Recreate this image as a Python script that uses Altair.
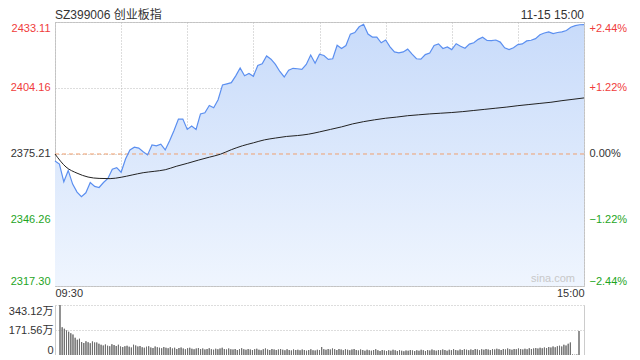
import altair as alt
import pandas as pd

TITLE = "SZ399006 创业板指"
STAMP = "11-15 15:00"
WATERMARK = "sina.com"
PREV_CLOSE = 2375.21
PRICE_TICKS = [2317.30, 2346.26, 2375.21, 2404.16, 2433.11]
VOL_TICKS = [0, 171.56, 343.12]
TIME_TICKS = [0, 30, 60, 90, 120, 150, 180, 210, 240]
TIME_LABELS = {0: "09:30", 240: "15:00"}

# minute index (0 = 09:30, 120 = 11:30/13:00, 240 = 15:00), every 2 minutes
PRICE_T = list(range(0, 241, 2))
PRICE = [
    2372.1, 2370.8, 2363.0, 2368.0, 2362.0, 2358.5, 2356.5, 2358.2, 2362.7, 2361.0,
    2360.5, 2362.7, 2364.5, 2368.5, 2369.2, 2367.2, 2373.0, 2377.0, 2378.2, 2377.8,
    2376.2, 2374.8, 2379.2, 2378.8, 2379.5, 2377.0, 2381.0, 2385.5, 2390.5, 2390.5,
    2386.0, 2387.5, 2386.0, 2392.8, 2393.3, 2396.5, 2395.5, 2399.0, 2405.5, 2406.0,
    2406.5, 2409.5, 2412.9, 2409.5, 2410.5, 2409.3, 2414.0, 2414.8, 2418.2, 2416.8,
    2414.5, 2411.4, 2409.0, 2412.0, 2412.8, 2412.6, 2412.3, 2414.5, 2418.6, 2415.0,
    2419.0, 2418.4, 2416.7, 2417.0, 2422.9, 2421.5, 2422.8, 2427.8, 2428.5, 2431.0,
    2432.1, 2427.8, 2426.5, 2426.5, 2424.0, 2425.2, 2422.2, 2420.0, 2419.6, 2420.0,
    2421.2, 2419.0, 2417.0, 2416.8, 2418.8, 2419.5, 2422.8, 2423.5, 2421.5, 2422.2,
    2421.0, 2423.6, 2422.5, 2421.6, 2423.4, 2424.0, 2425.5, 2426.4, 2425.0, 2424.9,
    2425.2, 2424.3, 2421.8, 2421.0, 2421.8, 2423.2, 2423.5, 2424.8, 2425.1, 2425.8,
    2427.5, 2428.3, 2428.8, 2428.0, 2428.5, 2428.8, 2429.4, 2430.8, 2431.5, 2431.9,
    2432.0,
]

# average price line, every 5 minutes
AVG_T = list(range(0, 241, 5))
AVG = [
    2375.2, 2369.5, 2366.8, 2365.1, 2364.5, 2364.4, 2365.0, 2366.0, 2367.0, 2367.6,
    2368.3, 2369.8, 2371.1, 2372.5, 2373.8, 2375.1, 2377.1, 2378.8, 2380.1, 2381.4,
    2382.2, 2382.9, 2383.3, 2383.9, 2384.9, 2386.0, 2387.1, 2388.4, 2389.4, 2390.2,
    2390.9, 2391.4, 2392.0, 2392.4, 2392.8, 2393.1, 2393.4, 2393.8, 2394.3, 2394.8,
    2395.3, 2395.8, 2396.4, 2396.9, 2397.4, 2397.9, 2398.6, 2399.2, 2399.8,
]

# volume per minute (万)
VOL_T = list(range(241))
VOL = [
    343.12, 190, 180, 168, 160, 150, 140, 118, 105, 112,
    90, 82, 95, 88, 80, 92, 85, 86, 78, 70,
    66, 72, 64, 60, 74, 68, 62, 70, 58, 55,
    60, 64, 56, 52, 70, 66, 58, 62, 54, 50,
    56, 60, 52, 48, 58, 54, 50, 46, 55, 49,
    47, 53, 45, 50, 42, 48, 52, 44, 40, 46,
    50, 43, 39, 45, 48, 41, 44, 38, 42, 47,
    40, 36, 43, 39, 45, 50, 41, 37, 44, 40,
    38, 42, 35, 40, 46, 39, 36, 41, 37, 34,
    39, 43, 36, 33, 40, 44, 37, 35, 41, 38,
    34, 38, 42, 36, 33, 39, 35, 31, 37, 34,
    36, 32, 38, 34, 30, 35, 40, 33, 31, 36,
    34, 55, 40, 36, 42, 38, 44, 39, 35, 41,
    37, 33, 39, 36, 32, 38, 42, 35, 31, 37,
    34, 30, 36, 33, 29, 35, 39, 32, 28, 34,
    31, 27, 33, 30, 36, 32, 28, 34, 30, 26,
    31, 29, 35, 31, 27, 33, 30, 36, 32, 28,
    34, 31, 37, 33, 29, 35, 32, 38, 34, 30,
    36, 33, 39, 35, 31, 37, 34, 40, 36, 32,
    38, 35, 41, 37, 33, 39, 36, 42, 38, 34,
    40, 37, 43, 39, 35, 41, 38, 44, 40, 36,
    42, 39, 45, 41, 37, 43, 40, 46, 42, 45,
    48, 44, 50, 47, 52, 48, 55, 51, 58, 54,
    60, 64, 58, 70, 66, 78, 85, 3, 2, 3,
    165,
]

FONT = "Liberation Sans, Arial, Noto Sans CJK SC, sans-serif"
RED = "#f03c3c"
GREEN = "#1ea51e"
TEXT = "#333333"
BLUE = "#5b8ff0"
GRID = "#bbbbbb"
BORDER = "#cccccc"
W = 529
H_TOP = 264
H_VOL = 50

price_df = pd.DataFrame({"t": PRICE_T, "price": PRICE})
avg_df = pd.DataFrame({"t": AVG_T, "avg": AVG})
vol_df = pd.DataFrame({"t": VOL_T, "vol": VOL})
close_df = pd.DataFrame({"price": [PREV_CLOSE]})
one_df = pd.DataFrame({"a": [0]})

xscale = alt.Scale(domain=[TIME_TICKS[0], TIME_TICKS[-1]], nice=False, zero=False)
yscale = alt.Scale(domain=[PRICE_TICKS[0], PRICE_TICKS[-1]], nice=False, zero=False)
vscale = alt.Scale(domain=[VOL_TICKS[0], VOL_TICKS[-1]], nice=False)

time_expr = " : ".join(
    [f"datum.value == {k} ? '{v}'" for k, v in TIME_LABELS.items()]
) + " : ''"

color_cond = {
    "condition": [
        {"test": f"datum.value > {PREV_CLOSE + 0.01}", "value": RED},
        {"test": f"datum.value < {PREV_CLOSE - 0.01}", "value": GREEN},
    ],
    "value": TEXT,
}

x_axis = alt.Axis(
    values=TIME_TICKS, labelExpr=time_expr, labelFlush=True,
    grid=True, gridDash=[1, 2], gridColor=GRID, domain=False, ticks=False,
    tickSize=0, labelPadding=1, labelFontSize=11, labelColor=TEXT,
    labelFont=FONT, title=None,
)
left_axis = alt.Axis(
    values=PRICE_TICKS, format=".2f", labelFlush=True, grid=True,
    gridDash=[1, 2], gridColor=GRID, domain=False, ticks=False, tickSize=0,
    labelPadding=5, labelFontSize=11, labelFont=FONT, title=None,
    labelColor=color_cond,
)
pct = f"(datum.value - {PREV_CLOSE}) / {PREV_CLOSE} * 100"
right_axis = alt.Axis(
    orient="right", values=PRICE_TICKS,
    labelExpr=(f"{pct} > 0.001 ? '+' + format({pct}, '.2f') + '%' : "
               f"format(abs({pct}) < 0.001 ? 0 : {pct}, '.2f') + '%'"),
    labelFlush=True, grid=False, domain=False, ticks=False, tickSize=0,
    labelPadding=5, labelFontSize=11, labelFont=FONT, title=None,
    labelColor=color_cond,
)

X = alt.X("t:Q", scale=xscale, axis=x_axis)

area = alt.Chart(price_df).mark_area(
    color=alt.Gradient(
        gradient="linear",
        stops=[alt.GradientStop(color="#eff5fe", offset=0),
               alt.GradientStop(color="#c8dbfa", offset=1)],
        x1=1, x2=1, y1=1, y2=0,
    )
).encode(
    x=X,
    y=alt.Y("price:Q", scale=yscale, axis=left_axis),
    y2=alt.datum(PRICE_TICKS[0]),
)

close_rule = alt.Chart(close_df).mark_rule(
    color="#f0a070", strokeDash=[4, 3], strokeWidth=1
).encode(y=alt.Y("price:Q", scale=yscale, axis=None))

price_line = alt.Chart(price_df).mark_line(color=BLUE, strokeWidth=1.2).encode(
    x=X, y=alt.Y("price:Q", scale=yscale, axis=None)
)

avg_line = alt.Chart(avg_df).mark_line(
    color="#222222", strokeWidth=1, interpolate="monotone"
).encode(x=X, y=alt.Y("avg:Q", scale=yscale, axis=right_axis))

title_txt = alt.Chart(one_df).mark_text(
    text=TITLE, align="left", baseline="alphabetic", fontSize=12,
    font=FONT, color=TEXT,
).encode(x=alt.value(0), y=alt.value(-3))

stamp_txt = alt.Chart(one_df).mark_text(
    text=STAMP, align="right", baseline="alphabetic", fontSize=12,
    font=FONT, color=TEXT,
).encode(x=alt.value(W), y=alt.value(-3))

mark_txt = alt.Chart(one_df).mark_text(
    text=WATERMARK, align="right", baseline="middle", fontSize=11,
    font=FONT, color="#c8c8c8",
).encode(x=alt.value(W - 9), y=alt.value(H_TOP - 7))

top = alt.layer(
    area, close_rule, price_line, avg_line, title_txt, stamp_txt, mark_txt
).resolve_axis(y="independent").properties(
    width=W, height=H_TOP,
    view=alt.ViewBackground(stroke=BORDER, strokeWidth=1),
)

vol_axis = alt.Axis(
    values=VOL_TICKS,
    labelExpr="datum.value == 0 ? '0' : format(datum.value, '.2f') + '万'",
    labelFlush=True, grid=True, gridDash=[1, 2], gridColor=GRID,
    domain=True, domainColor=BORDER, ticks=False, tickSize=0, labelPadding=2,
    labelFontSize=11, labelFont=FONT, labelColor=TEXT, title=None,
)
edge_axis = alt.Axis(
    orient="right", values=VOL_TICKS, labels=False, grid=False, ticks=False,
    tickSize=0, domain=True, domainColor=BORDER, title=None,
)

bars = alt.Chart(vol_df).mark_bar(width=1, color="#6e6e6e").encode(
    x=alt.X("t:Q", scale=xscale, axis=None),
    y=alt.Y("vol:Q", scale=vscale, axis=vol_axis),
)
edge = alt.Chart(vol_df).mark_bar(width=1, color="#6e6e6e").encode(
    x=alt.X("t:Q", scale=xscale, axis=None),
    y=alt.Y("vol:Q", scale=vscale, axis=edge_axis),
)
vol = alt.layer(bars, edge).resolve_axis(y="independent").properties(
    width=W, height=H_VOL
)

chart = alt.vconcat(top, vol, spacing=6).properties(
    padding={"left": 0, "top": 0, "right": 0, "bottom": 0}
).configure_view(strokeWidth=0)

chart.save("out.html", embed_options={"renderer": "svg", "actions": False})
